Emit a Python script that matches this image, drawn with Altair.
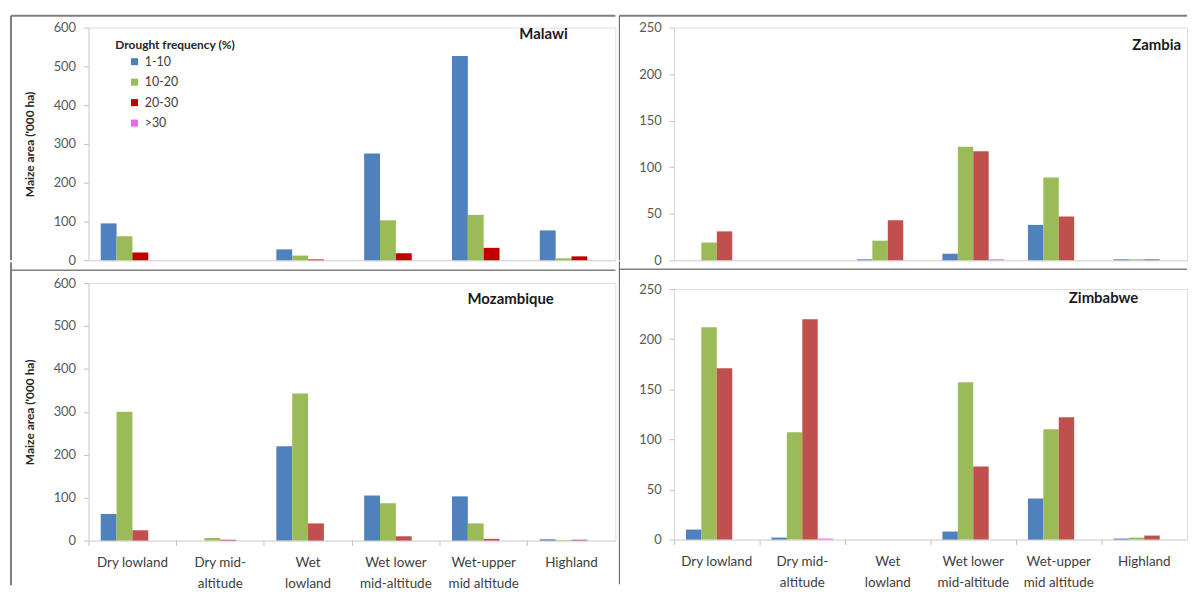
import altair as alt
import pandas as pd

zones = ["Dry lowland", "Dry mid-|altitude", "Wet|lowland", "Wet lower|mid-altitude",
         "Wet-upper|mid altitude", "Highland"]
freq = ["1-10", "10-20", "20-30", ">30"]
countries = ["Malawi", "Zambia", "Mozambique", "Zimbabwe"]

malawi_1_10 = [95, 0, 28, 275, 527, 77]
malawi_10_20 = [62, 0, 12, 103, 117, 5]
malawi_20_30 = [20, 0, 2, 18, 32, 10]
malawi_gt30 = [0, 0, 0, 0, 0, 0]

zambia_1_10 = [0, 0, 1, 7, 38, 1]
zambia_10_20 = [19, 0, 21, 122, 89, 1]
zambia_20_30 = [31, 0, 43, 117, 47, 1]
zambia_gt30 = [0, 0, 0, 1, 0, 0]

mozambique_1_10 = [62, 0, 220, 105, 103, 3]
mozambique_10_20 = [300, 6, 343, 87, 40, 1]
mozambique_20_30 = [24, 2, 40, 10, 4, 2]
mozambique_gt30 = [0, 0, 0, 0, 0, 0]

zimbabwe_1_10 = [10, 2, 0, 8, 41, 1]
zimbabwe_10_20 = [212, 107, 0, 157, 110, 2]
zimbabwe_20_30 = [171, 220, 0, 73, 122, 4]
zimbabwe_gt30 = [0, 1, 0, 0, 0, 0]

malawi_colors = ["#4F81BD", "#9BBB59", "#C00000", "#EE66EE"]
other_colors = ["#4F81BD", "#9BBB59", "#C0504D", "#EE66EE"]

FONT = "Lato"
LABEL_COLOR = "#595959"
FRAME = "#7F7F7F"


def make_df(series):
    rows = []
    for f, vals in zip(freq, series):
        for z, v in zip(zones, vals):
            rows.append({"zone": z, "freq": f, "value": v})
    return pd.DataFrame(rows)


def one():
    return pd.DataFrame({"a": [0]})


def rule(x, x2, y, y2, color, width):
    return alt.Chart(one()).mark_rule(color=color, strokeWidth=width).encode(
        x=alt.value(x), x2=alt.value(x2), y=alt.value(y), y2=alt.value(y2))


def panel(name, series, colors, ymax, ystep, w, h, bottom, left_col, title_pos,
          legend=None, rules=()):
    df = make_df(series)
    xscale = alt.Scale(domain=zones, paddingInner=0, paddingOuter=0)
    if bottom:
        xaxis = alt.Axis(title=None, labelExpr="split(datum.label, '|')", labelAngle=0,
                         ticks=False, domainColor="#D9D9D9", labelFont=FONT,
                         labelFontSize=13.5, labelColor="#404040", labelLineHeight=21,
                         labelPadding=15, labelOverlap=False, labelLimit=200,
                         orient="bottom")
    else:
        xaxis = alt.Axis(title=None, labels=False, ticks=False, domainColor="#D9D9D9")
    yaxis = alt.Axis(
        title="Maize area ('000 ha)" if left_col else None,
        values=list(range(0, ymax + 1, ystep)), grid=False, tickSize=5,
        tickColor="#BFBFBF", domainColor="#D9D9D9", labelFont=FONT, labelFontSize=13,
        labelColor=LABEL_COLOR, labelPadding=8, titleFont=FONT, titleFontSize=12,
        titleFontWeight="bold", titleColor="#262626", titlePadding=17)
    yscale = alt.Scale(domain=[0, ymax], nice=False)
    bars = alt.Chart(df).mark_bar().encode(
        x=alt.X("zone:N", sort=zones, scale=xscale, axis=xaxis),
        xOffset=alt.XOffset("freq:N", sort=freq,
                            scale=alt.Scale(domain=freq, paddingInner=0, paddingOuter=0.77)),
        y=alt.Y("value:Q", scale=yscale, axis=yaxis),
        color=alt.Color("freq:N", sort=freq, scale=alt.Scale(domain=freq, range=colors),
                        legend=legend),
    )
    title = alt.Chart(pd.DataFrame({"name": [name]})).mark_text(
        align="right", baseline="middle", font=FONT, fontSize=15, fontWeight="bold",
        color="#1A1A1A").encode(text="name:N", x=alt.value(title_pos[0]),
                                y=alt.value(title_pos[1]))
    layers = [bars]
    if bottom:
        tick_axis = alt.Axis(title=None, labels=False, ticks=True, tickSize=5,
                             tickColor="#BFBFBF", domain=False, bandPosition=0,
                             orient="bottom")
        ticks = alt.Chart(df).mark_point(opacity=0).encode(
            x=alt.X("zone:N", sort=zones, scale=xscale, axis=tick_axis),
            y=alt.Y("value:Q", scale=yscale, axis=yaxis),
        )
        layers.append(ticks)
    layers += [title] + [rule(*r) for r in rules]
    lay = alt.layer(*layers).properties(width=w, height=h)
    if bottom:
        lay = lay.resolve_axis(x="independent")
    return lay


LW, RW = 530, 516

malawi_legend = alt.Legend(title=None, orient="none", legendX=40, legendY=28,
                           symbolType="square", symbolSize=50, symbolStrokeWidth=0,
                           labelFont=FONT, labelFontSize=12.5, labelColor="#404040",
                           rowPadding=7.6)

legend_title = alt.Chart(pd.DataFrame({"t": ["Drought frequency (%)"]})).mark_text(
    align="left", baseline="middle", font=FONT, fontSize=12, fontWeight="bold",
    color="#262626").encode(text="t:N", x=alt.value(27), y=alt.value(18))

malawi = panel("Malawi", [malawi_1_10, malawi_10_20, malawi_20_30, malawi_gt30],
               malawi_colors, 600, 100, LW, 234, False, True, (482, 6),
               legend=malawi_legend,
               rules=[(-78, LW, -12, -12, FRAME, 2), (-78, -78, -12, 234, FRAME, 2)])
malawi = alt.layer(malawi, legend_title)

mozambique = panel("Mozambique",
                   [mozambique_1_10, mozambique_10_20, mozambique_20_30, mozambique_gt30],
                   other_colors, 600, 100, LW, 259, True, True, (468, 16),
                   rules=[(-78, LW, -13, -13, FRAME, 1.5), (-78, -78, -21, 304, FRAME, 2)])

zambia = panel("Zambia", [zambia_1_10, zambia_10_20, zambia_20_30, zambia_gt30],
               other_colors, 250, 50, RW, 234, False, False, (510, 18),
               rules=[(-55, RW, -12, -12, FRAME, 2), (-55, -55, -12, 234, "#595959", 1)])

zimbabwe = panel("Zimbabwe",
                 [zimbabwe_1_10, zimbabwe_10_20, zimbabwe_20_30, zimbabwe_gt30],
                 other_colors, 250, 50, RW, 252, True, False, (467, 9),
                 rules=[(-55, RW, -20, -20, FRAME, 1.5), (-55, -55, -28, 297, "#595959", 1)])

left = alt.vconcat(malawi, mozambique, spacing=-8).resolve_scale(
    color="independent", x="independent", y="independent", xOffset="independent")
right = alt.vconcat(zambia, zimbabwe, spacing=-8).resolve_scale(
    color="independent", x="independent", y="independent", xOffset="independent")

chart = alt.hconcat(left, right, spacing=0).resolve_scale(
    color="independent", x="independent", y="independent", xOffset="independent"
).properties(
    padding={"left": 1, "top": 4, "right": 0, "bottom": 0}
).configure_view(stroke=None).configure(background="white")

chart.save("out.html", embed_options={"renderer": "svg", "actions": False})
